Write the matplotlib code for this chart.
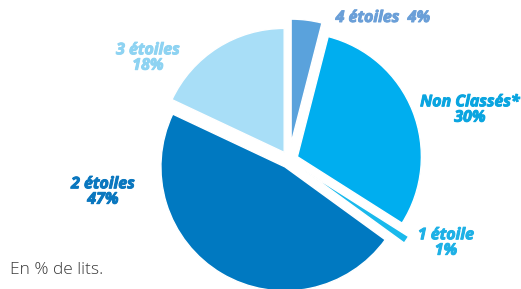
import matplotlib.pyplot as plt
import matplotlib.patheffects as pe

# share of beds by hotel category (clockwise from top)
categories = ['4 étoiles', 'Non Classés*', '1 étoile', '2 étoiles', '3 étoiles']
shares = [4, 30, 1, 47, 18]
colors = ['#5aa2dc', '#00aeef', '#19b9ec', '#0079c1', '#a8def7']
label_colors = ['#6a9fd8', '#0aa5e0', '#1eb1e6', '#0a77bf', '#8ed3f2']
explode = [17, 9, 18, 8, 9]  # offsets in pixels

fig = plt.figure(figsize=(5.21, 2.89), dpi=100)
ax = fig.add_axes([0, 0, 1, 1])

ax.pie(shares, colors=colors, explode=explode, startangle=90, counterclock=False,
       center=(289, 289 - 160), radius=124, frame=True,
       wedgeprops=dict(edgecolor='white', linewidth=1.0))
ax.set_xlim(0, 521)
ax.set_ylim(0, 289)
ax.axis('off')

font = dict(family='Open Sans', weight='bold', style='italic', fontsize=11.5,
            ha='center', va='center')

# label positions (pixels from top-left)
label_pos = [(383, 18), (470, 110), (446, 243), (103, 192), (148, 58)]
for i, (cat, val) in enumerate(zip(categories, shares)):
    x, y = label_pos[i]
    if i == 0:
        txt = f'{cat}  {val}%'
    else:
        txt = f'{cat}\n{val}%'
    ax.text(x, 289 - y, txt, color=label_colors[i], linespacing=0.95,
            path_effects=[pe.withStroke(linewidth=0.7, foreground=label_colors[i])],
            **font)

ax.text(10, 289 - 270, 'En % de lits.', family='Open Sans', weight='light',
        fontsize=12.5, color='#3a3a3a', ha='left', va='center')

fig.savefig('out.png', dpi=100)
